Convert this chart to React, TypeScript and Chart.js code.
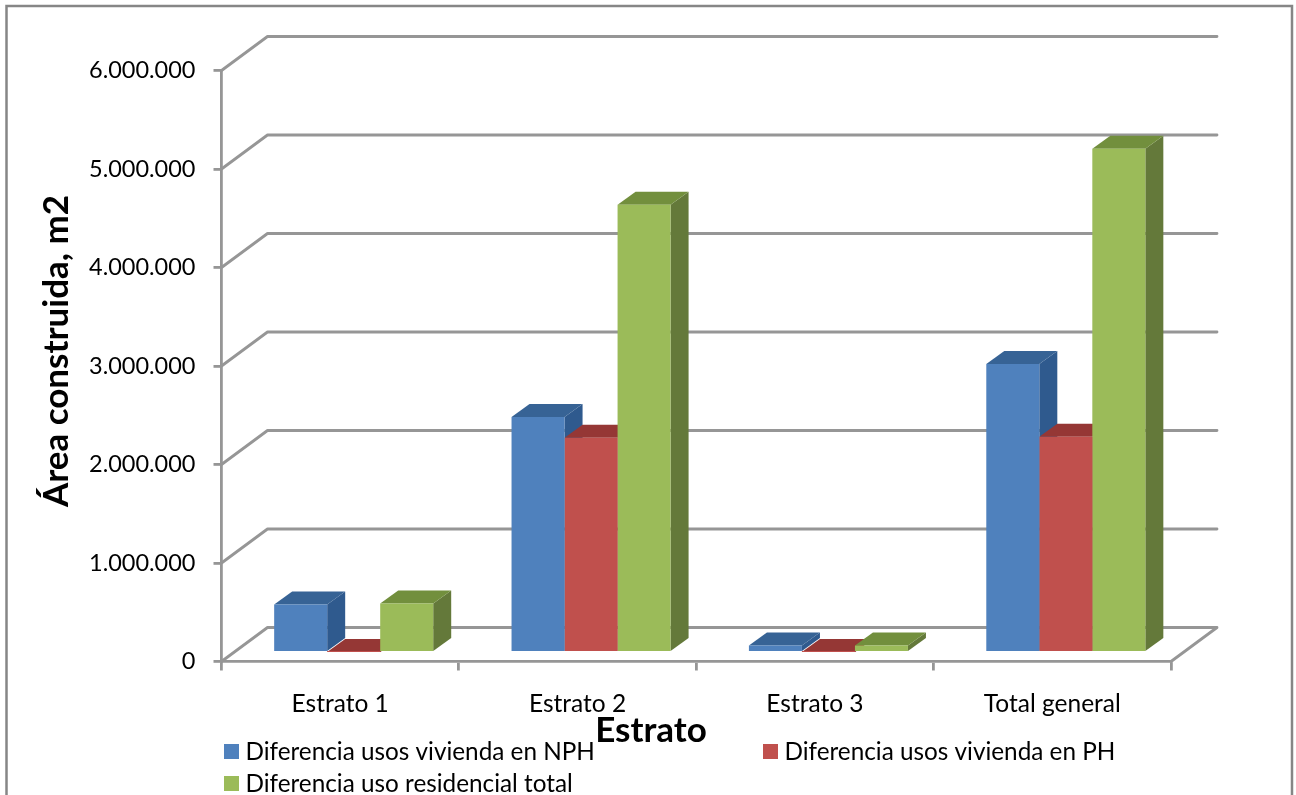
import React, { useEffect, useRef } from "react";
import { Chart, registerables } from "chart.js";

Chart.register(...registerables);

const categories = ["Estrato 1", "Estrato 2", "Estrato 3", "Total general"];
const nphValues = [488000, 2390000, 71000, 2930000];
const phValues = [5000, 2180000, 5000, 2190000];
const totalValues = [498000, 4545000, 72000, 5115000];
const seriesNames = [
  "Diferencia usos vivienda en NPH",
  "Diferencia usos vivienda en PH",
  "Diferencia uso residencial total",
];
const frontColors = ["#4F81BD", "#C0504D", "#9BBB59"];
const topColors = ["#376395", "#953735", "#728F3D"];
const sideColors = ["#2F5A8E", "#8A3230", "#64793A"];
const yTitle = "Área construida, m2";
const xTitle = "Estrato";

const FONT = "Lato, sans-serif";
const AXIS = "#969696";
const WALL = { dx: 46, dy: -34 };
const BAR_SHIFT = { dx: 13.5, dy: -9 };
const BAR_DEPTH = { dx: 18, dy: -13 };

const formatTick = (v: number) => String(v).replace(/\B(?=(\d{3})+(?!\d))/g, ".");

const polygon = (ctx: CanvasRenderingContext2D, pts: number[][], fill: string) => {
  ctx.beginPath();
  pts.forEach(([x, y], i) => (i ? ctx.lineTo(x, y) : ctx.moveTo(x, y)));
  ctx.closePath();
  ctx.fillStyle = fill;
  ctx.fill();
};

// Frame, back wall and floor of the pseudo-3D plot box.
const box = {
  id: "box",
  beforeDraw(chart: any) {
    const { ctx, scales, chartArea } = chart;
    ctx.save();
    ctx.strokeStyle = "#868686";
    ctx.lineWidth = 2.5;
    ctx.strokeRect(6.5, 6, 1285.5, 820);
    ctx.strokeStyle = AXIS;
    ctx.lineWidth = 2.8;
    ctx.lineCap = "round";
    ctx.lineJoin = "round";
    for (const tick of scales.y.ticks) {
      const y = scales.y.getPixelForValue(tick.value);
      ctx.beginPath();
      ctx.moveTo(chartArea.left, y);
      ctx.lineTo(chartArea.left + WALL.dx, y + WALL.dy);
      ctx.lineTo(chartArea.right + WALL.dx, y + WALL.dy);
      if (tick.value === 0) ctx.lineTo(chartArea.right, y);
      ctx.stroke();
    }
    ctx.restore();
  },
};

// Shifts the bars onto the floor and adds their top and side faces.
const extrude = {
  id: "extrude",
  beforeDatasetsDraw(chart: any) {
    const { ctx } = chart;
    ctx.save();
    ctx.translate(BAR_SHIFT.dx, BAR_SHIFT.dy);
    chart.data.datasets.forEach((_: any, di: number) => {
      chart.getDatasetMeta(di).data.forEach((bar: any) => {
        const l = bar.x - bar.width / 2;
        const r = bar.x + bar.width / 2;
        const { dx, dy } = BAR_DEPTH;
        polygon(ctx, [[r, bar.y], [r + dx, bar.y + dy], [r + dx, bar.base + dy], [r, bar.base]], sideColors[di]);
        polygon(ctx, [[l, bar.y], [l + dx, bar.y + dy], [r + dx, bar.y + dy], [r, bar.y]], topColors[di]);
      });
    });
  },
  afterDatasetsDraw(chart: any) {
    chart.ctx.restore();
  },
};

// Legend and axis titles, which overlap at the bottom of the chart.
const annotations = {
  id: "annotations",
  afterDraw(chart: any) {
    const { ctx } = chart;
    ctx.save();
    ctx.textBaseline = "middle";
    ctx.fillStyle = "#000";
    const slots = [
      [224, 752],
      [763, 752],
      [224, 784],
    ];
    chart.data.datasets.forEach((ds: any, i: number) => {
      const [x, y] = slots[i];
      ctx.fillStyle = ds.backgroundColor;
      ctx.fillRect(x, y - 8, 15, 15);
      ctx.fillStyle = "#000";
      ctx.font = `24.3px ${FONT}`;
      ctx.textAlign = "left";
      ctx.fillText(ds.label, x + 21.5, y);
    });
    ctx.font = `bold 35px ${FONT}`;
    ctx.textAlign = "center";
    ctx.fillText(xTitle, 651, 731);
    ctx.translate(57, 351);
    ctx.rotate(-Math.PI / 2);
    ctx.fillText(yTitle, 0, 0);
    ctx.restore();
  },
};

export default function App() {
  const ref = useRef<HTMLCanvasElement>(null);
  useEffect(() => {
    const chart = new Chart(ref.current!, {
      type: "bar",
      data: {
        labels: categories,
        datasets: [nphValues, phValues, totalValues].map((data, i) => ({
          label: seriesNames[i],
          data,
          backgroundColor: frontColors[i],
          clip: false,
        })) as any,
      },
      plugins: [box, extrude, annotations],
      options: {
        animation: false,
        responsive: false,
        categoryPercentage: 0.67,
        barPercentage: 1,
        layout: { padding: { top: 70.5, right: 125, left: 0, bottom: 0 } },
        plugins: { legend: { display: false }, title: { display: false }, tooltip: { enabled: false } },
        scales: {
          x: {
            afterFit: (s: any) => { s.height = 133.5; },
            grid: { drawOnChartArea: false, color: AXIS, lineWidth: 2.8, tickLength: 9, offset: true },
            border: { color: AXIS, width: 2.8 },
            ticks: { color: "#000", font: { family: FONT, size: 24.5 }, padding: 19, maxRotation: 0 },
          },
          y: {
            min: 0,
            max: 6000000,
            afterFit: (s: any) => { s.width = 221.5; },
            grid: { drawOnChartArea: false, color: AXIS, lineWidth: 2.8, tickLength: 8 },
            border: { color: AXIS, width: 2.8 },
            ticks: {
              stepSize: 1000000,
              color: "#000",
              font: { family: FONT, size: 23.5 },
              padding: 18,
              callback: (v: any) => formatTick(Number(v)),
            },
          },
        },
      } as any,
    });
    return () => chart.destroy();
  }, []);
  return (
    <div style={{ position: "absolute", left: 0, top: 0, width: 1296, height: 795 }}>
      <canvas ref={ref} width={1296} height={795} style={{ display: "block" }} />
    </div>
  );
}
